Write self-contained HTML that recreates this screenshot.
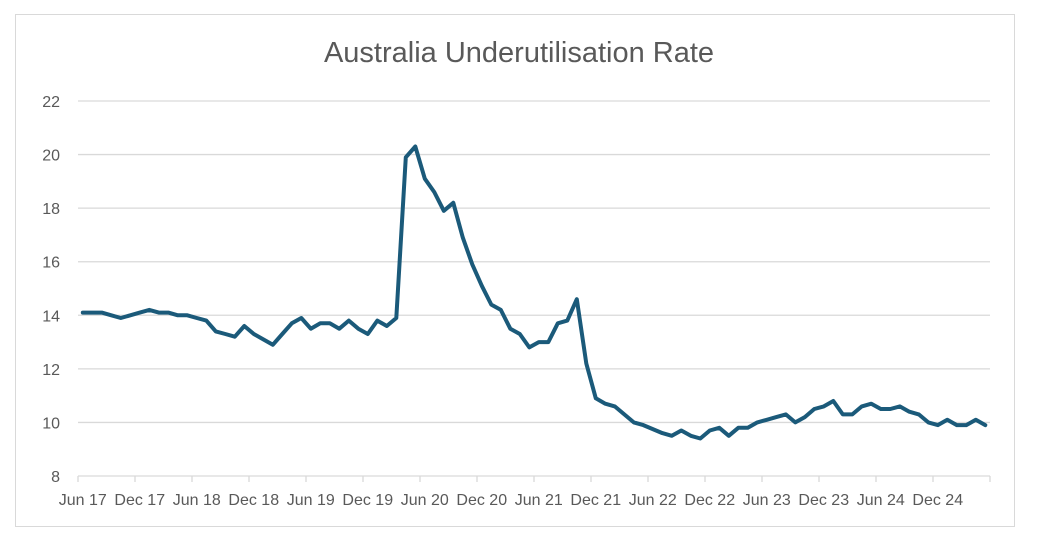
<!DOCTYPE html>
<html><head><meta charset="utf-8"><style>
body{margin:0;background:#fff;font-family:"Liberation Sans",sans-serif;}
</style></head><body>
<svg width="1039" height="549" xmlns="http://www.w3.org/2000/svg">
<rect x="15.5" y="14.5" width="999" height="512" fill="#fff" stroke="#d9d9d9"/>
<text x="519" y="62" text-anchor="middle" font-size="29" fill="#595959" font-family="Liberation Sans, sans-serif">Australia Underutilisation Rate</text>
<g id="grid"></g><g id="xaxis"></g><g id="yaxis"></g><g id="series"></g>
</svg>
<script>
const yTicks=[8,10,12,14,16,18,20,22];
const xLabels=["Jun 17","Dec 17","Jun 18","Dec 18","Jun 19","Dec 19","Jun 20","Dec 20","Jun 21","Dec 21","Jun 22","Dec 22","Jun 23","Dec 23","Jun 24","Dec 24"];
const values=[14.1,14.1,14.1,14.0,13.9,14.0,14.1,14.2,14.1,14.1,14.0,14.0,13.9,13.8,13.4,13.3,13.2,13.6,13.3,13.1,12.9,13.3,13.7,13.9,13.5,13.7,13.7,13.5,13.8,13.5,13.3,13.8,13.6,13.9,19.9,20.3,19.1,18.6,17.9,18.2,16.9,15.9,15.1,14.4,14.2,13.5,13.3,12.8,13.0,13.0,13.7,13.8,14.6,12.2,10.9,10.7,10.6,10.3,10.0,9.9,9.75,9.6,9.5,9.7,9.5,9.4,9.7,9.8,9.5,9.8,9.8,10.0,10.1,10.2,10.3,10.0,10.2,10.5,10.6,10.8,10.3,10.3,10.6,10.7,10.5,10.5,10.6,10.4,10.3,10.0,9.9,10.1,9.9,9.9,10.1,9.9];
const NS="http://www.w3.org/2000/svg";
const X0=78,X1=990,Y0=476,Y1=101,YMIN=8,YMAX=22;
const n=values.length, step=(X1-X0)/n;
const xs=i=>X0+step*(i+0.5);
const ys=v=>Y0-(v-YMIN)/(YMAX-YMIN)*(Y0-Y1);
function mk(t,a,parent){const e=document.createElementNS(NS,t);for(const k in a)e.setAttribute(k,a[k]);parent.appendChild(e);return e;}
const grid=document.getElementById('grid'),ya=document.getElementById('yaxis'),xa=document.getElementById('xaxis'),se=document.getElementById('series');
yTicks.forEach(v=>{
  if(v!==YMIN){const l=mk('line',{x1:X0,x2:X1,y1:ys(v),y2:ys(v),stroke:'#d9d9d9','stroke-width':1.3},grid);
  
  }
  const t=mk('text',{x:60,y:ys(v)+6,'text-anchor':'end','font-size':16,fill:'#595959'},ya);
  t.textContent=v;
  
  
});
const ax=mk('line',{x1:X0,x2:X1,y1:Y0,y2:Y0,stroke:'#d9d9d9','stroke-width':1.3},xa);


for(let k=0;k<=xLabels.length;k++){
  const x=X0+step*6*k;
  const tk=mk('line',{x1:x,x2:x,y1:Y0,y2:Y0+6,stroke:'#d9d9d9','stroke-width':1.3},xa);
  
  
}
xLabels.forEach((s,k)=>{
  const t=mk('text',{x:xs(6*k),y:505,'text-anchor':'middle','font-size':16,fill:'#595959'},xa);
  t.textContent=s;
  
  
});
const pts=values.map((v,i)=>xs(i).toFixed(1)+','+ys(v).toFixed(1)).join(' ');
const pl=mk('polyline',{points:pts,fill:'none',stroke:'#1b5a7a','stroke-width':4,'stroke-linejoin':'round','stroke-linecap':'round'},se);


</script>
</body></html>
